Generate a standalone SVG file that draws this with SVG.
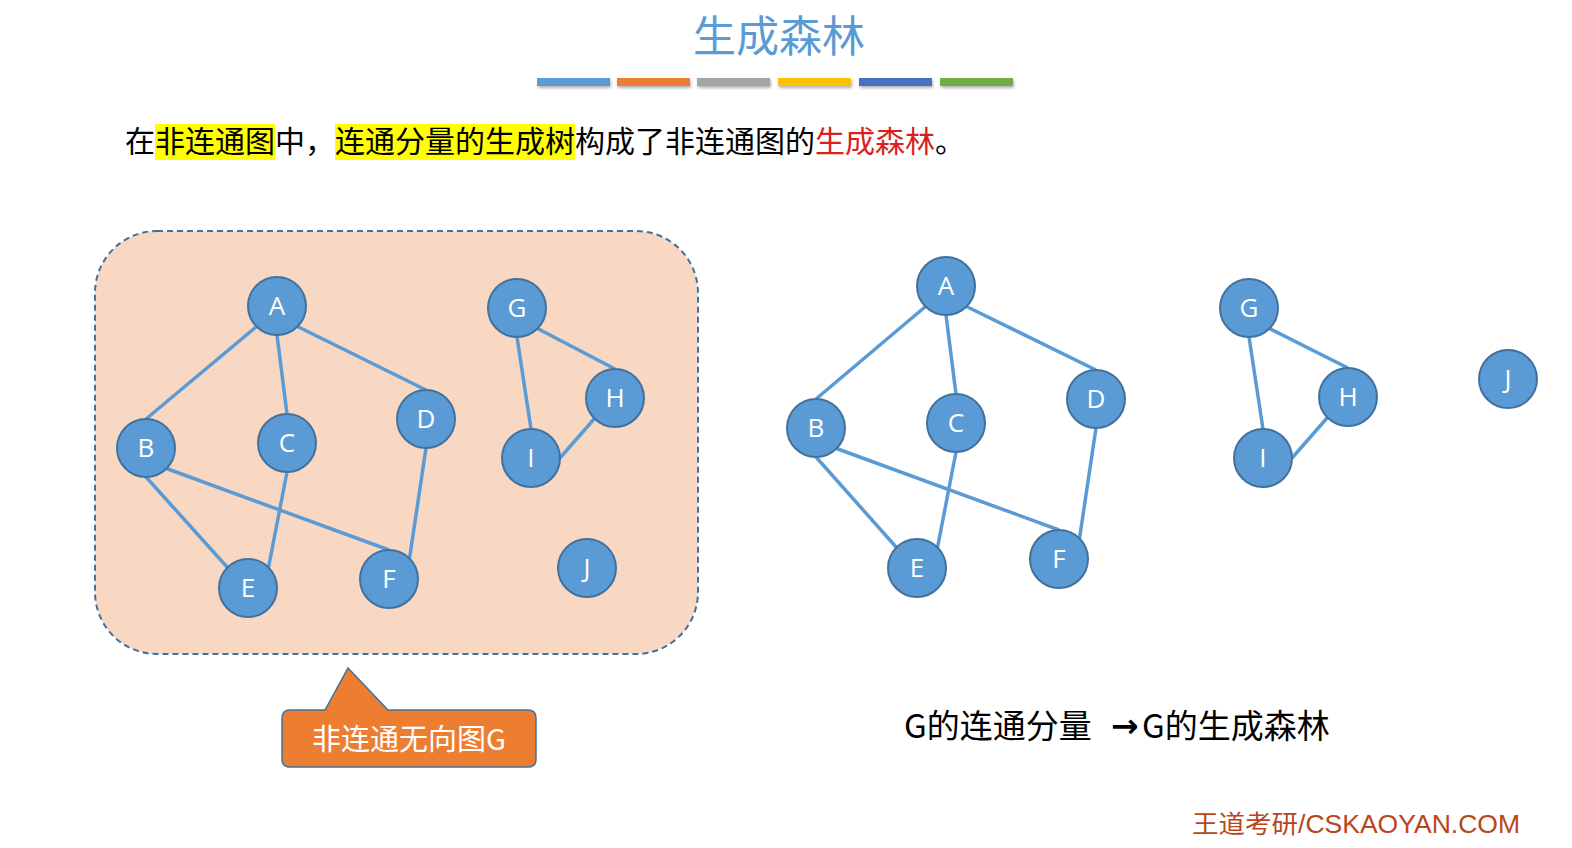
<svg xmlns="http://www.w3.org/2000/svg" width="1572" height="848" viewBox="0 0 1572 848">
  <defs>
    <filter id="barShadow" x="-10%" y="-50%" width="120%" height="250%">
      <feDropShadow dx="1" dy="2" stdDeviation="1.5" flood-color="#000" flood-opacity="0.3"/>
    </filter>
  </defs>
  <style>
    .node circle { fill: #5B9BD5; stroke: #41719C; stroke-width: 2; }
    .node text { fill: #FFFFFF; font-family: "Open Sans", "Liberation Sans", sans-serif; font-size: 26px; text-anchor: middle; }
    .edge { stroke: #5B9BD5; stroke-width: 3.5; fill: none; stroke-linecap: butt; }
    .cjk { font-family: "Noto Sans CJK SC", "Noto Sans", sans-serif; }
    .hl { fill: #FFFF00; }
  </style>
  <rect width="1572" height="848" fill="#FFFFFF"/>

  <!-- Title -->
  <g id="title">
    <text x="779" y="52" class="cjk" font-size="43" fill="#5B9BD5" text-anchor="middle">生成森林</text>
    <g filter="url(#barShadow)">
      <rect x="537" y="78" width="73" height="8" fill="#5B9BD5"/>
      <rect x="617" y="78" width="73" height="8" fill="#ED7D31"/>
      <rect x="697" y="78" width="73" height="8" fill="#A5A5A5"/>
      <rect x="778" y="78" width="73" height="8" fill="#FFC000"/>
      <rect x="859" y="78" width="73" height="8" fill="#4472C4"/>
      <rect x="940" y="78" width="73" height="8" fill="#70AD47"/>
    </g>
  </g>

  <!-- Subtitle -->
  <g id="subtitle">
    <rect class="hl" x="155" y="124" width="120" height="36"/>
    <rect class="hl" x="335" y="124" width="240" height="36"/>
    <text x="125" y="152" class="cjk" font-size="30" fill="#000000">在非连通图中，连通分量的生成树构成了非连通图的<tspan fill="#DA1F1F">生成森林</tspan>。</text>
  </g>

  <!-- Left box (disconnected graph G) -->
  <rect id="graphBox" x="95" y="231" width="603" height="423" rx="62" ry="62" fill="#F8D8C2" stroke="#41719C" stroke-width="2" stroke-dasharray="6 4"/>

  <!-- Connectors -->
  <g id="connectors">
    <!-- left graph -->
    <line class="edge" x1="256.5" y1="326.5" x2="146" y2="419"/>
    <line class="edge" x1="277" y1="335" x2="287" y2="414"/>
    <line class="edge" x1="297.5" y1="326.5" x2="426" y2="390"/>
    <line class="edge" x1="146" y1="477" x2="227.5" y2="567.5"/>
    <line class="edge" x1="166.5" y1="468.5" x2="389" y2="550"/>
    <line class="edge" x1="287" y1="472" x2="268.5" y2="567.5"/>
    <line class="edge" x1="426" y1="448" x2="409.5" y2="558.5"/>
    <line class="edge" x1="517" y1="337" x2="531" y2="429"/>
    <line class="edge" x1="537.5" y1="328.5" x2="615" y2="369"/>
    <line class="edge" x1="594.5" y1="418.5" x2="560" y2="458"/>
    <!-- right graph -->
    <line class="edge" x1="925.5" y1="306.5" x2="816" y2="399"/>
    <line class="edge" x1="946" y1="315" x2="956" y2="394"/>
    <line class="edge" x1="966.5" y1="306.5" x2="1096" y2="370"/>
    <line class="edge" x1="816" y1="457" x2="896.5" y2="547.5"/>
    <line class="edge" x1="836.5" y1="448.5" x2="1059" y2="530"/>
    <line class="edge" x1="956" y1="452" x2="937.5" y2="547.5"/>
    <line class="edge" x1="1096" y1="428" x2="1079.5" y2="538.5"/>
    <line class="edge" x1="1249" y1="337" x2="1263" y2="429"/>
    <line class="edge" x1="1269.5" y1="328.5" x2="1348" y2="368"/>
    <line class="edge" x1="1327.5" y1="417.5" x2="1292" y2="458"/>
  </g>

  <!-- Left graph nodes -->
  <g id="L_A" class="node"><circle cx="277" cy="306" r="29"/><text x="277" y="315">A</text></g>
  <g id="L_B" class="node"><circle cx="146" cy="448" r="29"/><text x="146" y="457">B</text></g>
  <g id="L_C" class="node"><circle cx="287" cy="443" r="29"/><text x="287" y="452">C</text></g>
  <g id="L_D" class="node"><circle cx="426" cy="419" r="29"/><text x="426" y="428">D</text></g>
  <g id="L_E" class="node"><circle cx="248" cy="588" r="29"/><text x="248" y="597">E</text></g>
  <g id="L_F" class="node"><circle cx="389" cy="579" r="29"/><text x="389" y="588">F</text></g>
  <g id="L_G" class="node"><circle cx="517" cy="308" r="29"/><text x="517" y="317">G</text></g>
  <g id="L_H" class="node"><circle cx="615" cy="398" r="29"/><text x="615" y="407">H</text></g>
  <g id="L_I" class="node"><circle cx="531" cy="458" r="29"/><text x="531" y="467">I</text></g>
  <g id="L_J" class="node"><circle cx="587" cy="568" r="29"/><text x="587" y="577">J</text></g>

  <!-- Right graph nodes -->
  <g id="R_A" class="node"><circle cx="946" cy="286" r="29"/><text x="946" y="295">A</text></g>
  <g id="R_B" class="node"><circle cx="816" cy="428" r="29"/><text x="816" y="437">B</text></g>
  <g id="R_C" class="node"><circle cx="956" cy="423" r="29"/><text x="956" y="432">C</text></g>
  <g id="R_D" class="node"><circle cx="1096" cy="399" r="29"/><text x="1096" y="408">D</text></g>
  <g id="R_E" class="node"><circle cx="917" cy="568" r="29"/><text x="917" y="577">E</text></g>
  <g id="R_F" class="node"><circle cx="1059" cy="559" r="29"/><text x="1059" y="568">F</text></g>
  <g id="R_G" class="node"><circle cx="1249" cy="308" r="29"/><text x="1249" y="317">G</text></g>
  <g id="R_H" class="node"><circle cx="1348" cy="397" r="29"/><text x="1348" y="406">H</text></g>
  <g id="R_I" class="node"><circle cx="1263" cy="458" r="29"/><text x="1263" y="467">I</text></g>
  <g id="R_J" class="node"><circle cx="1508" cy="379" r="29"/><text x="1508" y="388">J</text></g>

  <!-- Callout -->
  <g id="callout">
    <path d="M290,710 L325,710 L348,668 L388,710 L528,710 Q536,710 536,718 L536,759 Q536,767 528,767 L290,767 Q282,767 282,759 L282,718 Q282,710 290,710 Z" fill="#ED7D31" stroke="#41719C" stroke-width="1.5"/>
    <text x="409" y="750" class="cjk" font-size="29" fill="#FFFFFF" text-anchor="middle">非连通无向图G</text>
  </g>

  <!-- Bottom caption -->
  <g id="caption">
    <text x="904" y="738" class="cjk" font-size="33" fill="#000000">G的连通分量</text>
    <text x="1111" y="737" font-family="'DejaVu Sans', sans-serif" font-size="33" font-weight="bold" fill="#000000">→</text>
    <text x="1142" y="738" class="cjk" font-size="33" fill="#000000">G的生成森林</text>
  </g>

  <!-- Footer -->
  <text id="footer" x="1192" y="833" font-family="'Liberation Sans', 'Noto Sans CJK SC', sans-serif" font-size="25" fill="#B8461B" textLength="328" lengthAdjust="spacingAndGlyphs">王道考研/CSKAOYAN.COM</text>
</svg>
